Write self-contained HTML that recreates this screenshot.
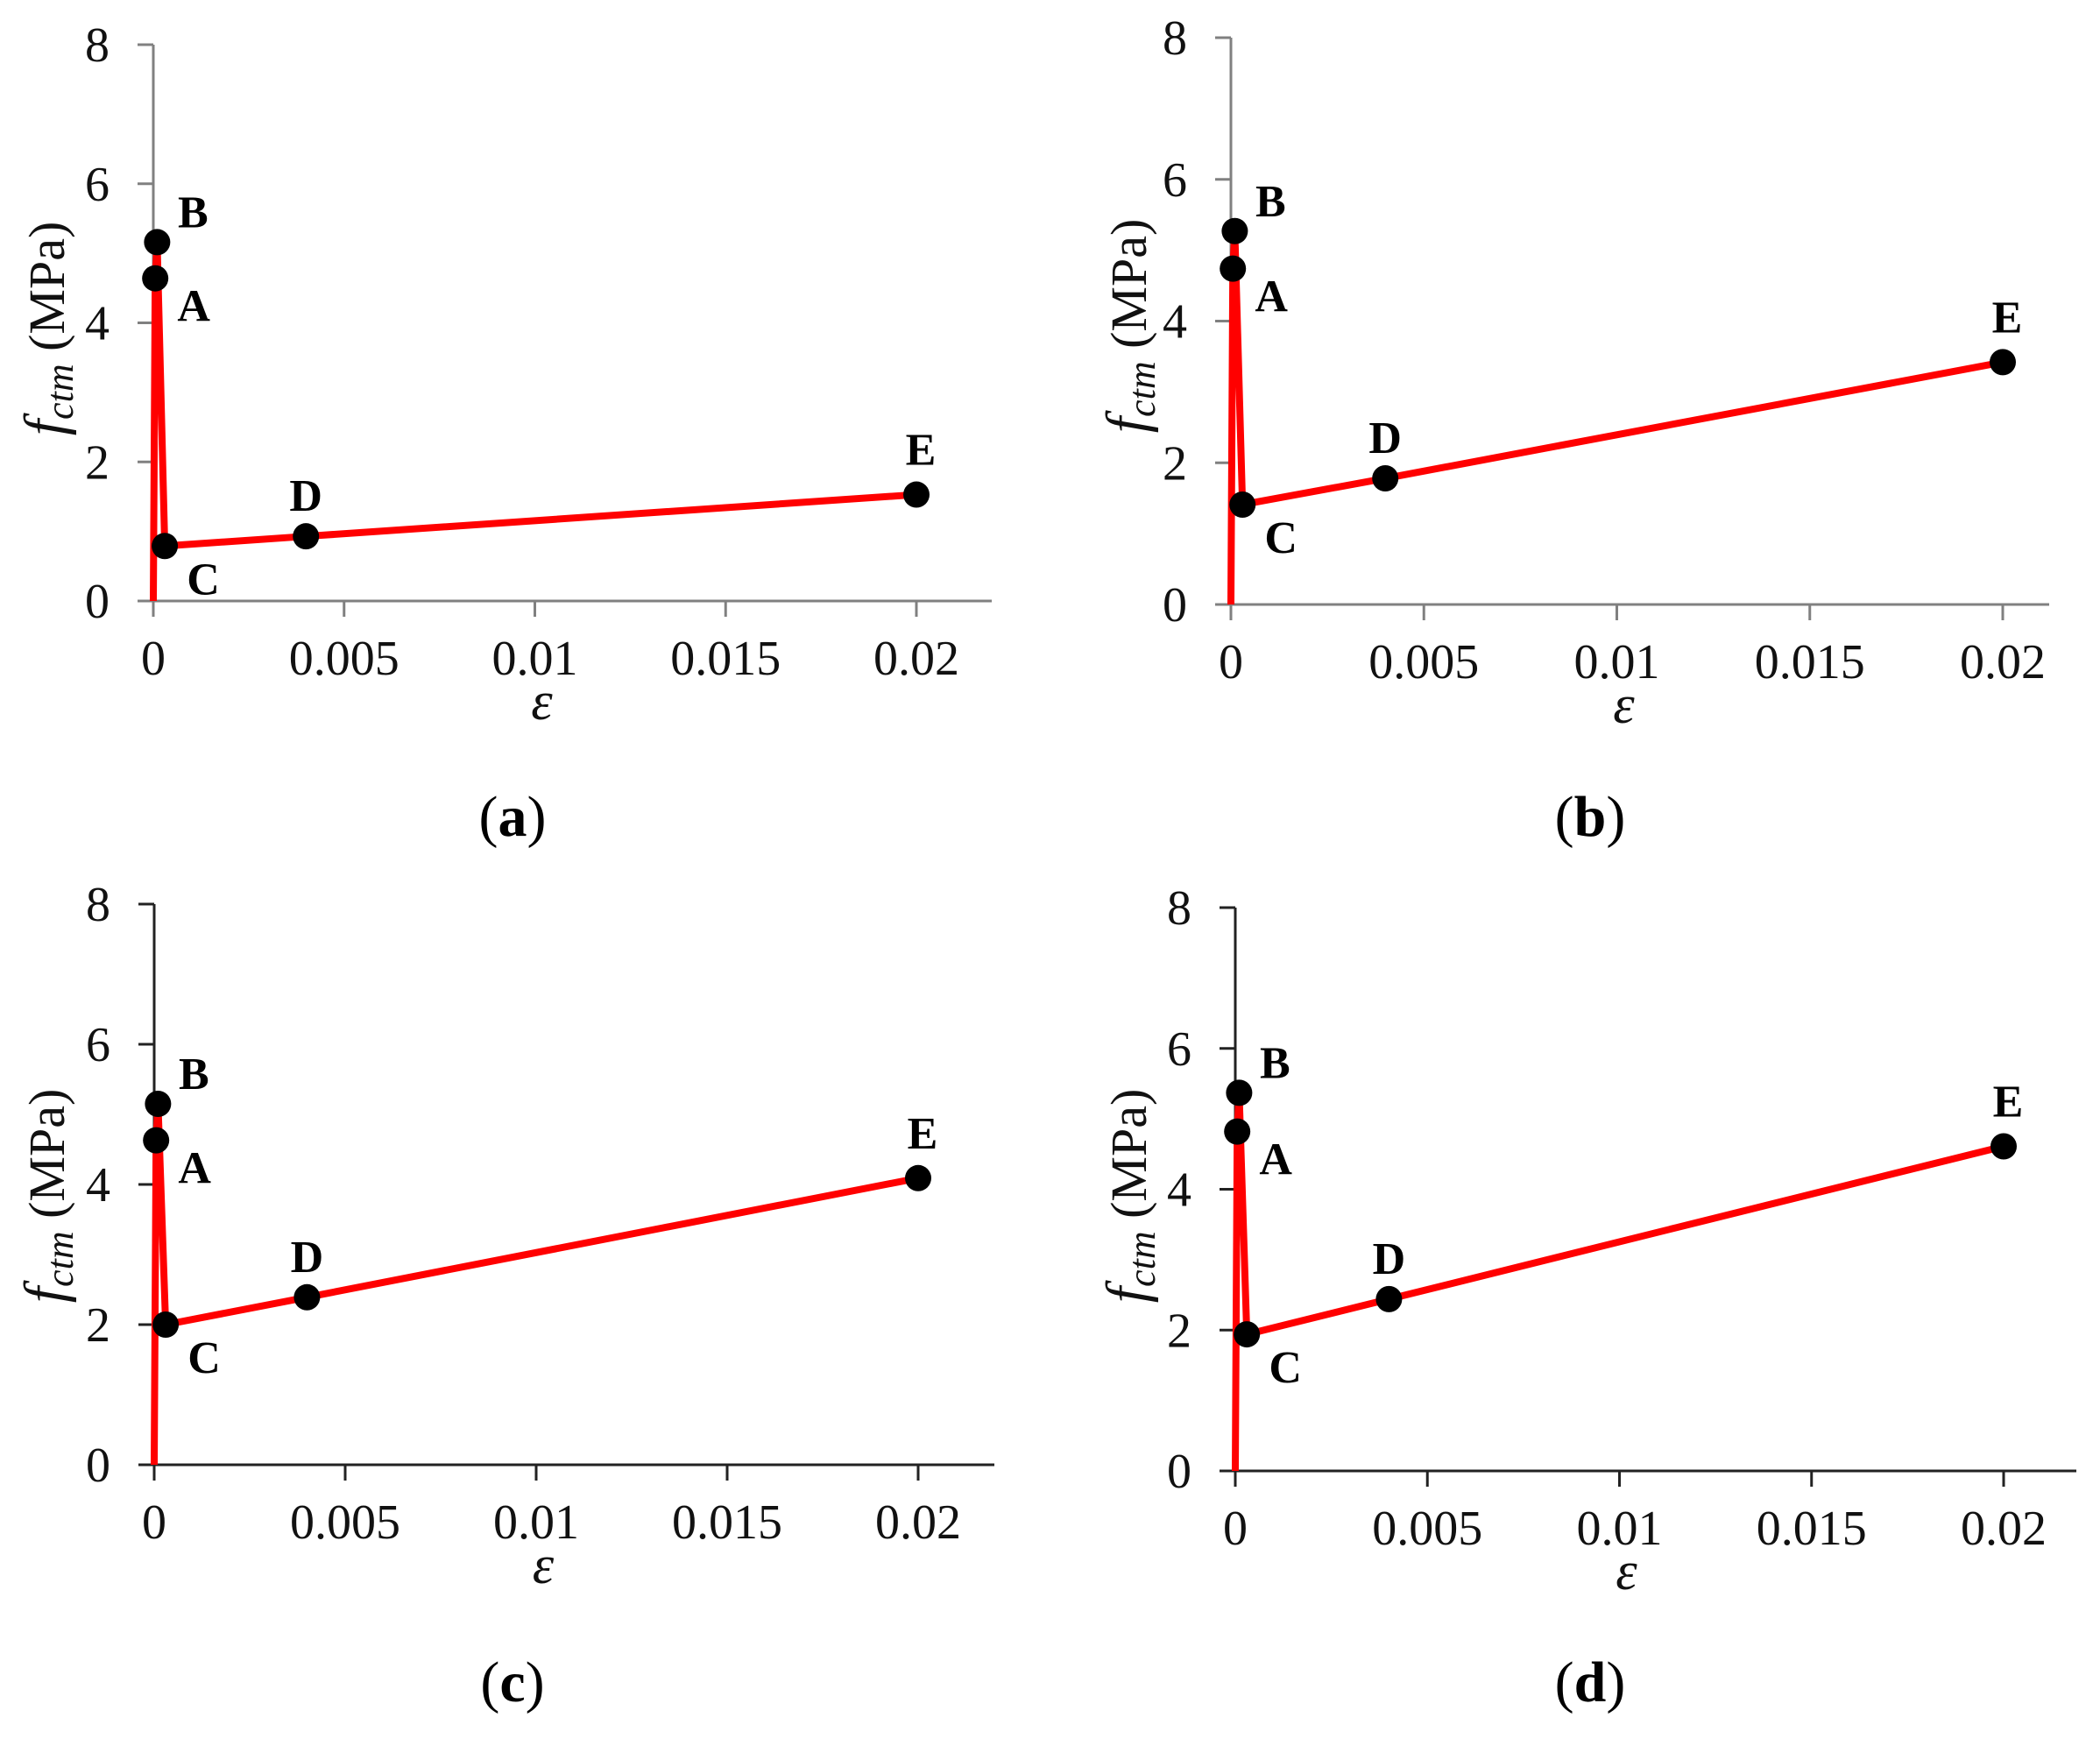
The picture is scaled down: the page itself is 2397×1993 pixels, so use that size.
<!DOCTYPE html>
<html><head><meta charset="utf-8"><style>
html,body{margin:0;padding:0;background:#fff;}
svg{display:block;}
text{font-family:"Liberation Serif","DejaVu Serif",serif;}
</style></head><body>
<svg id="fig" width="2397" height="1993" viewBox="0 0 2397 1993" xmlns="http://www.w3.org/2000/svg"></svg>
<script>
// Data
const pointNames = ["A","B","C","D","E"];
const strainA = [0.00005, 0.0001, 0.0003, 0.004, 0.02];
const stressA = [4.64, 5.16, 0.79, 0.93, 1.53];
const strainB = [0.00005, 0.0001, 0.0003, 0.004, 0.02];
const stressB = [4.74, 5.27, 1.41, 1.78, 3.42];
const strainC = [0.00005, 0.0001, 0.0003, 0.004, 0.02];
const stressC = [4.63, 5.15, 2.0, 2.39, 4.09];
const strainD = [0.00005, 0.0001, 0.0003, 0.004, 0.02];
const stressD = [4.82, 5.37, 1.94, 2.44, 4.61];
const xTicks = [0, 0.005, 0.01, 0.015, 0.02];
const xTickLabels = ["0","0.005","0.01","0.015","0.02"];
const yTicks = [0, 2, 4, 6, 8];
const yTickLabels = ["0","2","4","6","8"];
const panelLetters = ["a","b","c","d"];

const NS = "http://www.w3.org/2000/svg";
const svg = document.getElementById("fig");
function mk(tag, attrs, parent){
  const e = document.createElementNS(NS, tag);
  for (const k in attrs) e.setAttribute(k, attrs[k]);
  (parent||svg).appendChild(e);
  return e;
}
const panels = [
  {x0:175, x02:1046, xEnd:1132, y0:686, y8:51, axis:"#808080", tx:55, ty:375, cap:585, capy:932, sx:strainA, sy:stressA},
  {x0:1405, x02:2286, xEnd:2339, y0:690, y8:43, axis:"#808080", tx:1290, ty:372, cap:1815, capy:932, sx:strainB, sy:stressB},
  {x0:176, x02:1048, xEnd:1135, y0:1672, y8:1032, axis:"#222", tx:55, ty:1365, cap:585, capy:1920, sx:strainC, sy:stressC},
  {x0:1410, x02:2287, xEnd:2370, y0:1679, y8:1036, axis:"#222", tx:1290, ty:1365, cap:1815, capy:1920, sx:strainD, sy:stressD}
];
const labelOff = [[44,31],[41,-35],[44,37],[0,-47],[5,-52]];

panels.forEach((p, i) => {
  const g = mk("g", {});
  
  
  const X = v => p.x0 + (v/0.02)*(p.x02 - p.x0);
  const Y = v => p.y0 - (v/8)*(p.y0 - p.y8);
  const ya = mk("line", {x1:p.x0, y1:p.y8, x2:p.x0, y2:p.y0+18, stroke:p.axis, "stroke-width":3}, g);
  
  
  const xa = mk("line", {x1:p.x0-18, y1:p.y0, x2:p.xEnd, y2:p.y0, stroke:p.axis, "stroke-width":3}, g);
  
  
  yTicks.forEach((t, k) => {
    mk("line", {x1:p.x0-18, y1:Y(t), x2:p.x0, y2:Y(t), stroke:p.axis, "stroke-width":3}, g);
    const tl = mk("text", {x:p.x0-50, y:Y(t)+19, "font-size":56, "text-anchor":"end", fill:"#111"}, g);
    tl.textContent = yTickLabels[k];
    
    
  });
  xTicks.forEach((t, k) => {
    mk("line", {x1:X(t), y1:p.y0, x2:X(t), y2:p.y0+18, stroke:p.axis, "stroke-width":3}, g);
    const tl = mk("text", {x:X(t), y:p.y0+84, "font-size":56, "text-anchor":"middle", fill:"#111"}, g);
    tl.textContent = xTickLabels[k];
    
    
  });
  const xt = mk("text", {x:(p.x0+p.x02)/2+8, y:p.y0+135, "font-size":62, "font-style":"italic", "text-anchor":"middle", fill:"#111"}, g);
  xt.textContent = "ε";
  
  
  const yt = mk("text", {x:0, y:0, "font-size":58, "text-anchor":"middle", fill:"#111", transform:`translate(${p.tx+18},${p.ty}) rotate(-90)`}, g);
  
  
  const f = mk("tspan", {"font-style":"italic", "font-size":66}, yt); f.textContent = "f";
  const sub = mk("tspan", {"font-style":"italic", "font-size":44, dy:10}, yt); sub.textContent = "ctm";
  const rest = mk("tspan", {dy:-10}, yt); rest.textContent = " (MPa)";
  let d = `M${X(0)},${Y(0)}`;
  p.sx.forEach((v, k) => { d += ` L${X(v)},${Y(p.sy[k])}`; });
  const line = mk("path", {d:d, fill:"none", stroke:"#ff0000", "stroke-width":8, "stroke-linejoin":"round"}, g);
  
  
  p.sx.forEach((v, k) => {
    const c = mk("circle", {cx:X(v), cy:Y(p.sy[k]), r:15, fill:"#000"}, g);
    
    
    const lt = mk("text", {x:X(v)+labelOff[k][0], y:Y(p.sy[k])+labelOff[k][1]+18, "font-size":52, "font-weight":"bold", "text-anchor":"middle", fill:"#000"}, g);
    lt.textContent = pointNames[k];
    
    
  });
  const cap = mk("text", {x:p.cap, y:p.capy+22, "font-size":66, "text-anchor":"middle", fill:"#000"}, g);
  
  
  const o = mk("tspan", {}, cap); o.textContent = "(";
  const b = mk("tspan", {"font-weight":"bold"}, cap); b.textContent = panelLetters[i];
  const c2 = mk("tspan", {}, cap); c2.textContent = ")";
});
</script>
</body></html>
